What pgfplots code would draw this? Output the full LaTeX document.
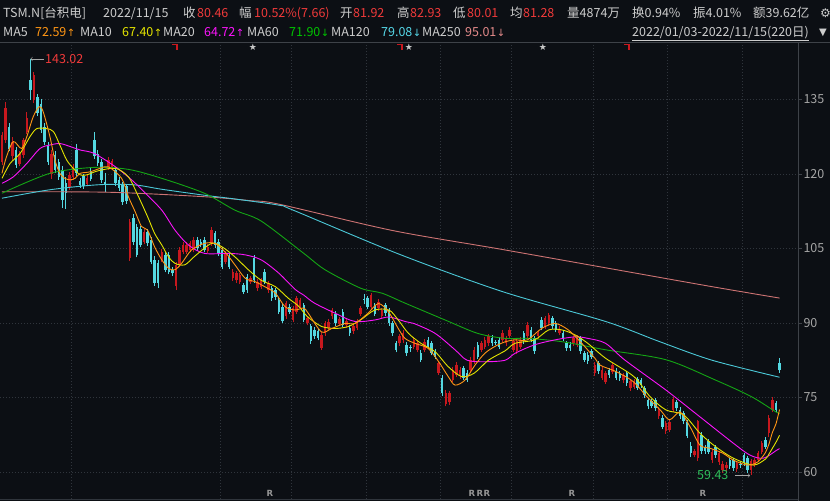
\documentclass[border=0pt]{standalone}
\usepackage{fontspec}
\setmainfont{Noto Sans CJK SC}
\newfontfamily\dejavu{DejaVu Sans}
\usepackage{pgfplots}
\pgfplotsset{compat=1.18}
\usepackage{pgfplotstable}

\definecolor{bg}{RGB}{12,15,20}
\definecolor{gridgray}{RGB}{48,53,60}
\definecolor{axgray}{RGB}{62,66,72}
\definecolor{ticktext}{RGB}{165,165,165}
\definecolor{lab}{RGB}{205,205,205}
\definecolor{valred}{RGB}{240,58,58}
\definecolor{upred}{RGB}{200,24,30}
\definecolor{dncyan}{RGB}{84,216,225}
\definecolor{ma5}{RGB}{255,150,20}
\definecolor{ma10}{RGB}{228,228,0}
\definecolor{ma20}{RGB}{250,20,250}
\definecolor{ma60}{RGB}{20,165,20}
\definecolor{ma60t}{RGB}{0,195,0}
\definecolor{ma120}{RGB}{75,200,215}
\definecolor{ma120t}{RGB}{85,215,232}
\definecolor{ma250}{RGB}{205,115,115}
\definecolor{ma250t}{RGB}{228,138,138}
\definecolor{lowgreen}{RGB}{46,190,90}
\definecolor{rgray}{RGB}{150,150,150}
\definecolor{stargray}{RGB}{200,200,200}

\newcommand\hf{\fontsize{12.5}{15}\selectfont}
\newcommand\upa{{\dejavu\fontsize{10}{12}\selectfont\kern0.5pt↑}}
\newcommand\dna{{\dejavu\fontsize{10}{12}\selectfont\kern0.5pt↓}}

\pgfplotstableread{
i o h l c
0 122.4 128.4 121.8 127.8
1 126.8 134.5 126.3 133.3
3 123.5 127.5 122.8 126.5
5 122.0 124.6 121.5 124.0
6 123.8 127.3 123.2 126.8
7 128.5 132.5 128.0 131.2
9 134.9 140.5 134.3 139.9
14 120.0 124.8 119.0 124.0
19 117.4 120.4 116.8 119.8
20 119.4 122.0 118.8 121.4
24 118.0 119.8 117.5 119.2
30 121.4 123.3 120.8 122.8
31 121.4 123.0 120.8 122.6
36 103.0 111.0 102.5 110.4
40 106.3 108.9 105.8 108.4
45 102.7 104.9 102.2 104.3
49 97.5 102.3 96.6 101.7
50 101.7 105.2 101.2 104.7
51 104.3 106.2 103.8 105.7
52 104.3 106.2 103.8 105.7
53 104.7 106.5 104.2 106.0
54 104.7 107.2 104.2 106.7
58 104.5 105.8 104.0 105.3
59 106.0 109.3 105.5 108.7
63 102.3 104.5 101.8 104.0
65 99.0 100.8 98.5 100.3
66 98.6 100.5 98.1 100.0
67 98.3 100.1 97.8 99.6
70 98.3 99.5 97.8 99.0
72 97.0 98.8 96.5 98.3
73 97.3 99.1 96.8 98.6
75 96.6 98.5 96.1 98.0
80 91.3 94.5 90.8 94.0
82 90.6 93.5 90.1 93.0
83 92.3 95.4 91.8 95.0
84 93.3 95.1 92.8 94.6
86 90.0 91.5 89.5 91.0
90 85.0 88.1 84.6 87.6
91 87.9 90.4 87.4 89.9
92 89.0 90.7 88.5 90.2
93 91.3 93.1 90.8 92.6
95 89.8 91.2 89.3 90.7
97 89.5 90.8 89.0 90.3
99 88.3 89.8 87.8 89.3
100 89.0 90.7 88.5 90.2
101 91.9 93.5 91.4 93.0
104 93.3 96.1 92.8 95.6
106 93.0 94.8 92.5 94.3
107 91.3 93.1 90.8 92.6
112 85.9 87.8 85.4 87.3
113 86.5 88.5 86.0 88.0
116 85.2 87.1 84.7 86.6
117 84.6 86.4 84.1 85.9
119 84.6 86.7 84.1 86.2
123 80.0 82.4 79.5 81.9
125 73.6 76.5 73.2 76.0
126 74.0 76.4 73.5 75.9
127 78.6 81.1 78.1 80.6
128 79.6 82.1 79.1 81.6
129 79.3 81.1 78.8 80.6
132 80.6 83.1 80.1 82.6
133 82.3 85.1 81.8 84.6
135 84.6 86.4 84.1 85.9
136 85.2 87.1 84.7 86.6
137 85.9 87.8 85.4 87.3
141 86.6 88.5 86.1 88.0
142 85.9 87.4 85.4 86.9
143 87.3 89.1 86.8 88.6
144 84.6 86.8 84.1 86.3
145 84.3 86.8 83.8 86.3
146 85.2 87.1 84.7 86.6
148 87.3 90.1 86.8 89.6
151 87.3 88.4 86.8 87.9
153 89.3 91.5 88.8 91.0
154 89.9 92.1 89.4 91.6
157 88.0 89.3 87.5 88.8
161 85.9 87.4 85.4 86.9
162 85.6 87.5 85.1 87.0
167 79.9 82.1 79.4 81.6
169 79.0 81.1 78.5 80.6
170 78.2 80.4 77.7 79.9
172 80.2 82.0 79.7 81.5
175 78.5 80.0 78.0 79.5
177 76.9 78.8 76.4 78.3
178 77.2 78.7 76.7 78.2
185 71.2 73.0 70.7 72.5
187 68.2 70.3 67.7 69.8
188 68.5 70.5 68.0 70.0
189 72.5 75.1 72.0 74.6
195 63.5 64.7 63.0 64.2
196 62.8 70.5 62.2 70.2
200 62.4 64.6 61.9 64.1
202 62.0 64.3 61.5 63.8
203 60.4 62.2 59.9 61.7
204 60.8 62.0 60.3 61.5
207 60.6 62.3 60.1 61.8
211 60.4 62.7 59.43 62.2
212 61.5 62.9 61.0 62.4
213 62.5 64.3 62.0 63.8
214 64.1 66.3 63.6 65.8
216 67.8 71.5 67.0 70.8
217 72.5 75.2 72.0 74.5
}\uptab

\pgfplotstableread{
i o h l c
2 129.5 130.3 124.6 125.1
4 124.8 125.5 121.2 121.8
8 138.9 143.02 134.9 136.9
10 135.5 136.0 131.6 132.2
11 134.0 135.0 128.2 128.8
12 129.5 130.2 125.8 126.5
13 125.8 126.5 121.8 122.4
15 123.8 124.5 120.2 120.8
16 122.4 123.0 118.8 119.4
17 120.8 121.5 113.1 114.7
18 118.1 119.4 113.0 116.1
21 124.8 126.0 119.5 120.1
22 118.5 119.2 117.2 117.8
23 119.5 120.0 117.0 117.6
25 120.5 121.2 118.5 119.0
26 126.8 128.4 123.0 123.5
27 124.0 124.8 121.6 122.2
28 122.4 123.0 118.2 118.8
29 118.4 120.2 116.4 117.8
32 120.8 121.4 117.6 118.2
33 118.8 119.4 116.6 117.2
34 117.8 118.3 113.8 114.3
35 117.5 118.0 114.0 114.5
37 111.1 112.0 105.6 106.3
38 109.4 110.0 103.2 103.7
39 109.0 109.6 105.2 105.7
41 108.4 109.0 105.5 106.0
42 106.7 107.3 101.8 102.3
43 102.7 103.5 97.5 98.0
44 102.0 102.6 97.0 98.0
46 103.7 104.3 100.2 100.7
47 103.7 104.3 99.8 100.3
48 100.7 101.3 99.5 100.0
55 106.7 107.3 104.5 105.0
56 106.3 106.8 105.2 105.7
57 106.7 107.2 104.2 104.7
60 108.0 108.6 105.0 105.6
61 106.3 106.9 103.5 104.0
62 104.7 105.2 100.8 101.3
64 103.3 103.8 100.8 101.3
68 97.6 98.1 95.8 96.3
69 99.3 99.8 96.1 96.6
71 103.0 103.6 98.1 98.6
74 100.3 100.8 97.8 98.3
76 97.0 97.5 94.5 95.0
77 96.6 97.1 94.7 95.2
78 94.6 95.1 91.8 92.3
79 93.3 93.8 89.9 90.3
81 93.3 93.8 91.8 92.3
85 93.6 94.1 90.1 90.6
87 89.3 89.8 85.8 86.3
88 88.6 89.1 86.8 87.3
89 88.3 88.8 86.5 87.0
94 91.9 92.4 89.4 89.9
96 92.3 92.8 89.1 89.6
98 89.0 89.5 87.4 87.9
102 94.8 95.9 93.8 94.6
103 95.0 95.5 92.8 93.3
105 93.6 94.1 91.4 91.9
108 93.6 94.1 91.5 92.0
109 92.6 93.1 89.4 89.9
110 89.9 90.4 87.4 87.9
111 85.9 86.4 84.1 84.6
114 85.6 86.1 83.4 83.9
115 85.1 85.6 84.2 84.9
118 84.0 84.5 82.1 82.6
120 86.6 87.1 84.7 85.2
121 85.9 86.4 83.5 84.0
122 84.2 84.7 82.7 83.2
124 79.0 79.5 75.3 75.9
130 80.9 81.4 78.5 79.0
131 80.0 80.5 78.1 78.6
134 85.6 86.1 82.7 83.2
138 87.0 87.5 85.4 85.9
139 86.1 86.6 85.5 85.9
140 86.6 87.1 84.7 85.2
147 87.9 88.4 85.8 86.3
149 88.6 89.1 86.1 86.6
150 86.9 87.4 83.8 84.3
152 90.6 91.1 88.5 89.0
155 91.0 91.5 88.8 89.3
156 89.9 90.4 88.1 88.6
158 88.0 88.5 86.4 86.9
159 85.9 86.4 84.4 84.9
160 85.6 86.1 84.4 84.9
163 86.9 87.4 83.8 84.3
164 83.9 84.4 82.1 82.6
165 83.6 84.1 81.8 82.3
166 84.3 84.8 82.7 83.2
168 81.9 82.4 79.8 80.3
171 80.5 81.0 79.0 79.5
173 80.4 80.9 78.5 79.0
174 79.9 80.4 78.4 78.9
176 79.9 80.4 77.4 77.9
179 78.7 79.2 76.5 77.0
180 78.5 79.0 77.0 77.5
181 76.9 77.4 75.0 75.5
182 74.5 75.0 72.7 73.2
183 74.3 74.8 72.8 73.3
184 74.5 75.0 72.3 72.8
186 70.9 71.4 68.6 69.1
190 74.0 74.5 72.3 72.8
191 72.5 73.0 70.7 71.2
192 71.8 72.3 69.7 70.2
193 70.0 70.5 66.8 67.3
194 65.2 66.0 63.0 63.8
197 67.5 68.0 63.7 64.2
198 65.0 65.5 63.7 64.2
199 66.2 66.7 63.6 64.1
201 65.0 65.5 62.9 63.4
205 62.4 62.9 60.7 61.2
206 62.4 62.9 60.3 60.8
208 61.6 62.1 60.9 61.4
209 63.4 63.9 61.3 61.8
210 62.8 63.3 59.9 60.4
215 66.5 67.0 64.6 65.1
218 73.8 74.3 72.0 72.5
219 81.92 82.93 80.01 80.46
}\dntab

\newcommand{\hd}[4]{\node[anchor=base west, inner sep=0pt, text=#3, font=\hf] at (#1pt,#2pt) {#4};}

\begin{document}
\begin{tikzpicture}
\useasboundingbox (0,0) rectangle (830pt,501pt);
\clip (0,0) rectangle (830pt,501pt);
\fill[bg] (0,0) rectangle (830pt,501pt);

\begin{axis}[
  at={(0pt,2pt)}, anchor=south west,
  width=798pt, height=457pt, scale only axis,
  xmin=-0.56, xmax=224.2, ymin=54.58, ymax=146.53,
  axis line style={draw=none},
  xtick={19.5,61.5,81.5,102.5,123.5,143.5,166.5,187.5,208.5},
  xticklabels={}, xtick style={draw=none},
  ytick={60,75,90,105,120,135}, ytick pos=right, yticklabel pos=right,
  tick align=outside, major tick length=4pt,
  ytick style={draw=axgray, line width=0.6pt},
  yticklabel style={font=\hf, text=ticktext, anchor=west, xshift=-2pt},
  /pgf/number format/assume math mode=true,
  grid=major,
  grid style={draw=gridgray, line width=0.7pt, dash pattern=on 1pt off 2pt},
]
% wicks
\addplot[draw=none, forget plot, error bars/.cd, y dir=plus, y explicit, error mark=none,
  error bar style={solid, draw=upred, line width=0.9pt}]
  table[x=i, y=l, y error expr=\thisrow{h}-\thisrow{l}] {\uptab};
\addplot[draw=none, forget plot, error bars/.cd, y dir=plus, y explicit, error mark=none,
  error bar style={solid, draw=dncyan, line width=0.9pt}]
  table[x=i, y=l, y error expr=\thisrow{h}-\thisrow{l}] {\dntab};
% bodies
\addplot[draw=none, forget plot, error bars/.cd, y dir=plus, y explicit, error mark=none,
  error bar style={solid, draw=upred, line width=2.5pt, line cap=butt}]
  table[x=i, y=o, y error expr=\thisrow{c}-\thisrow{o}] {\uptab};
\addplot[draw=none, forget plot, error bars/.cd, y dir=plus, y explicit, error mark=none,
  error bar style={solid, draw=dncyan, line width=2.5pt, line cap=butt}]
  table[x=i, y=c, y error expr=\thisrow{o}-\thisrow{c}] {\dntab};

% MA250
\addplot[ma250, line width=0.9pt, smooth] coordinates {
(0,116.4) (30,116.3) (57,115.4) (70,114.6) (78,113.9) (110,108.6) (140,104.9) (170,101.1) (200,97.3) (219,95.01)};
% MA120
\addplot[ma120, line width=0.9pt, smooth] coordinates {
(0,115.1) (13.5,116.8) (27,117.8) (37,117.8) (45,116.9) (57,115.7) (65,115.0) (78,113.7) (82,112.7) (112,103.8) (141,96.3) (170,90.3) (185,86.3) (200,82.5) (219,79.08)};
% MA60
\addplot[ma60, line width=0.9pt, smooth] coordinates {
(0,116.1) (13.5,120.1) (26,121.3) (35.6,120.9) (45,119.1) (57,116.1) (65.6,112.7) (73,110.5) (85,104.0) (91,100.7) (101,97.0) (107,96.0) (113.5,94.0) (124.8,90.6) (134,87.9) (141.7,86.9) (148,86.9) (158,86.2) (170,84.6) (187,82.6) (201,78.5) (211,75.2) (218,72.1) (219,71.90)};
% MA20
\addplot[ma20, line width=0.9pt, smooth] coordinates {
(0,118.1) (3.2,119.4) (7,122.1) (10.7,125.1) (13.5,125.8) (16.3,126.1) (19.2,125.5) (22,124.8) (26,124.1) (32,121.4) (36.5,118.8) (40,116.4) (45,112.7) (48.7,108.7) (52.5,105.7) (57,104.0) (63.8,104.0) (68.5,103.7) (73,102.7) (78,100.0) (82.5,96.8) (85,95.6) (88,94.0) (94,91.9) (99.4,90.3) (105,90.6) (109,91.2) (113.5,90.3) (116,89.9) (122,87.9) (127.6,84.6) (131,82.5) (136,82.2) (141.7,82.5) (144.5,83.9) (150,85.6) (155.8,86.6) (161.4,87.2) (165,86.9) (170,85.9) (175.5,82.5) (187,76.5) (196.6,71.1) (206,65.8) (210.7,63.4) (214.5,62.8) (218.2,64.4) (219,64.72)};
% MA10
\addplot[ma10, line width=0.9pt, smooth] coordinates {
(0,119.1) (2.3,122.1) (5.1,124.1) (7.9,127.5) (9.8,129.1) (12.6,129.1) (14.5,128.5) (16.3,125.8) (18.2,122.8) (20.1,121.1) (22,119.8) (23.9,119.8) (27,120.6) (32,121.1) (35.6,119.4) (38,116.1) (41,111.4) (43,108.0) (45,105.7) (46.9,103.3) (48.7,102.0) (51.5,101.7) (54.4,103.5) (59,106.0) (62,105.3) (65.6,103.3) (69.4,100.7) (73,98.6) (77,97.3) (80.6,95.0) (83.5,93.4) (86,91.3) (90,89.3) (94,88.9) (97.6,89.3) (101,90.6) (105,92.6) (109,92.6) (111.6,90.6) (114.5,87.9) (118,85.9) (122,84.2) (125.7,81.2) (129.5,79.2) (133,79.9) (137,82.5) (141.7,84.4) (144.5,85.9) (150,86.6) (154,88.6) (157.7,88.6) (161.4,87.6) (165,85.9) (170,82.9) (178,79.2) (182.5,75.2) (187,72.5) (192,71.5) (196.6,67.8) (201,65.1) (206,62.8) (211.6,61.4) (215,62.6) (216,63.6) (217,64.8) (218,66.0) (219,67.40)};
% MA5
\addplot[ma5, line width=0.9pt, smooth] coordinates {
(0,120.1) (1.3,123.5) (3.2,126.5) (5.5,125.1) (7,127.5) (8.8,131.5) (10.5,133.5) (11.6,132.5) (13.5,127.5) (14.9,122.8) (16.3,120.1) (17.7,119.1) (19.2,118.8) (20.6,119.1) (22,120.1) (24.8,120.4) (27.6,121.1) (30,121.4) (33.7,119.1) (35.6,115.4) (37.5,112.4) (39.3,109.4) (41,108.7) (43,105.3) (45,102.7) (46.9,101.0) (48.7,100.7) (50.6,102.0) (53.4,104.7) (57,106.0) (60,106.0) (62.8,104.3) (65.6,101.7) (68.5,99.0) (71.3,98.3) (74,97.3) (77,96.0) (79.7,93.3) (82.5,92.6) (85,93.0) (86.3,91.9) (90,88.2) (92.9,88.9) (96.6,89.9) (99.4,89.9) (103,91.9) (106,93.9) (108.8,92.3) (111.6,88.9) (113.5,86.9) (116.3,85.9) (120,84.9) (123,82.2) (125.7,79.2) (127.6,77.5) (130.4,78.5) (133.2,81.5) (136,83.9) (138.9,85.3) (141.7,86.2) (144.5,86.6) (148,86.6) (152,88.9) (155.8,89.9) (159.5,88.6) (163.3,85.9) (167,82.9) (168.5,81.5) (173,80.2) (177.8,78.2) (181.6,75.2) (185.4,72.5) (188,70.5) (191,72.1) (193.8,69.1) (196.6,65.4) (199.4,64.8) (203,63.8) (206,62.4) (209.8,61.4) (212,61.7) (213,62.1) (214,62.9) (215,63.9) (216,65.6) (217,68.0) (218,69.7) (219,72.59)};
\end{axis}

% frame lines
\draw[axgray, line width=0.8pt] (0,458.5pt) -- (830pt,458.5pt);
\draw[axgray, line width=0.8pt] (798pt,0) -- (798pt,458.5pt);
\draw[gridgray, line width=0.6pt] (0,2pt) -- (798pt,2pt);

% header row 1
\hd{3}{483.5}{lab}{TSM.N[台积电]}
\hd{103}{483.5}{lab}{2022/11/15}
\hd{183}{483.5}{lab}{收}
\hd{197}{483.5}{valred}{80.46}
\hd{239}{483.5}{lab}{幅}
\hd{254}{483.5}{valred}{10.52\%(7.66)}
\hd{340}{483.5}{lab}{开}
\hd{353}{483.5}{valred}{81.92}
\hd{397}{483.5}{lab}{高}
\hd{410}{483.5}{valred}{82.93}
\hd{453}{483.5}{lab}{低}
\hd{467}{483.5}{valred}{80.01}
\hd{510}{483.5}{lab}{均}
\hd{523}{483.5}{valred}{81.28}
\hd{567}{483.5}{lab}{量4874万}
\hd{632}{483.5}{lab}{换0.94\%}
\hd{693}{483.5}{lab}{振4.01\%}
\hd{753}{483.5}{lab}{额39.62亿}
\node[anchor=base west, inner sep=0pt, text=lab, font=\dejavu\fontsize{12}{14}\selectfont] at (820pt,483.5pt) {⚙};

% header row 2
\hd{3}{464.3}{lab}{MA5}
\hd{35}{464.3}{ma5}{72.59\upa}
\hd{80}{464.3}{lab}{MA10}
\hd{122}{464.3}{ma10}{67.40\upa}
\hd{163}{464.3}{lab}{MA20}
\hd{204}{464.3}{ma20}{64.72\upa}
\hd{247}{464.3}{lab}{MA60}
\hd{289}{464.3}{ma60t}{71.90\dna}
\hd{331}{464.3}{lab}{MA120}
\hd{381}{464.3}{ma120t}{79.08\dna}
\hd{422}{464.3}{lab}{MA250}
\hd{465}{464.3}{ma250t}{95.01\dna}
\hd{632}{464.3}{lab}{\underline{2022/01/03-2022/11/15(220日)}}
\node[anchor=base west, inner sep=0pt, text=lab, font=\dejavu\fontsize{10}{12}\selectfont] at (819pt,465pt) {▼};

% top event markers
\foreach \xx in {172,397,624}{
  \draw[upred, line width=1.8pt] (\xx pt,456.5pt) -- (\xx pt+5pt,456.5pt) -- (\xx pt+5pt,451pt);
}
\foreach \xx in {253,409,543}{
  \node[text=stargray, font=\dejavu\fontsize{9}{10}\selectfont, inner sep=0pt] at (\xx pt,454pt) {★};
}

% extreme labels
\draw[ticktext, line width=0.6pt, ->] (44pt,442pt) -- (30.5pt,442pt);
\node[anchor=west, inner sep=0pt, text=valred, font=\hf] at (45pt,442pt) {143.02};
\node[anchor=west, inner sep=0pt, text=lowgreen, font=\hf] at (697pt,26pt) {59.43};
\draw[ticktext, line width=0.6pt, ->] (735pt,25.5pt) -- (750pt,25.5pt);

% R markers
\foreach \xx in {270,472,480,487,572,703}{
  \node[text=rgray, font=\dejavu\bfseries\fontsize{8.5}{10}\selectfont, inner sep=0pt] at (\xx pt,8pt) {R};
}
\end{tikzpicture}
\end{document}
